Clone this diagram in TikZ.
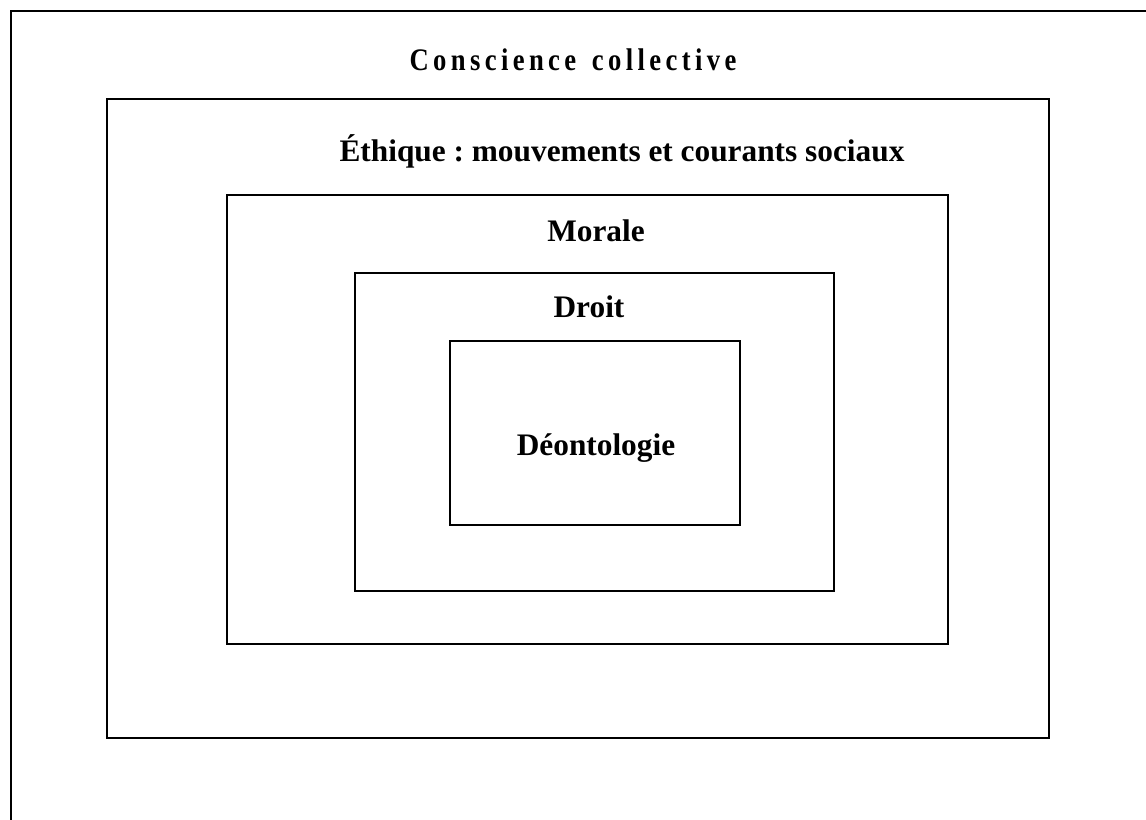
\documentclass[tikz,border=0pt]{standalone}
\usepackage{fontspec}
\setmainfont{Liberation Serif}
\usetikzlibrary{positioning}
\frenchspacing

\tikzset{
  cadre/.style = {draw, line width=1.5pt},
  titre/.style = {anchor=base, inner sep=0pt, font=\fontsize{23.5}{28}\selectfont\bfseries}
}

\begin{document}
\begin{tikzpicture}[x=0.75pt, y=-0.75pt]
	    \useasboundingbox (0,0) rectangle (1146,820);
	    \clip (0,0) rectangle (1146,820);
	    % frames
	    \draw[cadre] (11,11) rectangle (1160,840);
	    \draw[cadre] (107,99) rectangle (1049,738);
	    \draw[cadre] (227,195) rectangle (948,644);
	    \draw[cadre] (355,273) rectangle (834,591);
	    \draw[cadre] (450,341) rectangle (740,525);
	    % labels
	    \node[titre] at (573,71) (CC) {\addfontfeature{FakeStretch=0.85, LetterSpace=14}Conscience\hspace{0.5em}collective};
	    \node[titre] at (622,162) (ETH) {Éthique : mouvements et courants sociaux};
	    \node[titre] at (596,242) (MOR) {Morale};
	    \node[titre] at (589,317) (DR) {Droit};
	    \node[titre] at (596,455) (DEO) {Déontologie};
\end{tikzpicture}
\end{document}
